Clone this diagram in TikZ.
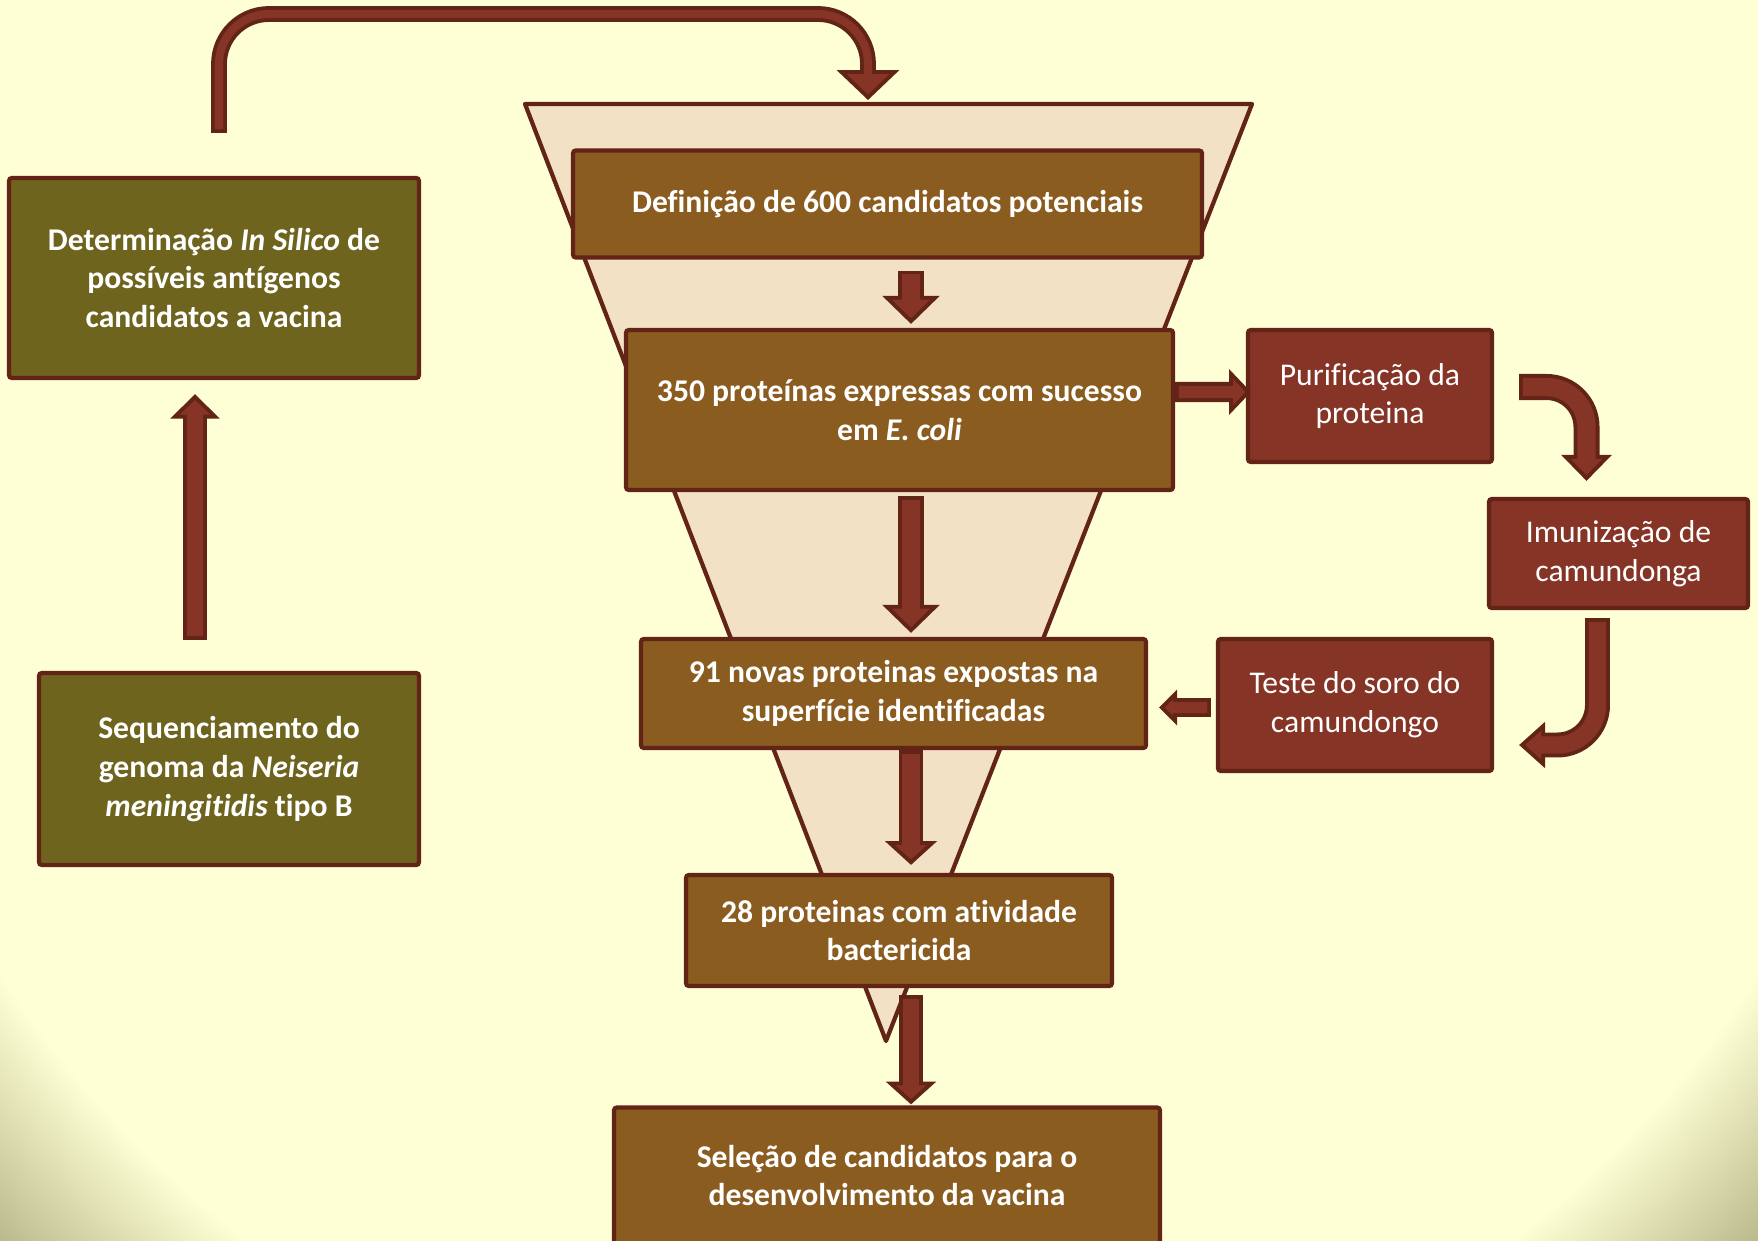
\documentclass[tikz,border=0pt]{standalone}
\usepackage{fontspec}
\setmainfont{Carlito}[Ligatures={NoCommon,NoContextual}, Contextuals=NoAlternate]
\usetikzlibrary{arrows.meta}
\definecolor{bgyellow}{RGB}{255,255,213}
\definecolor{bgdark}{RGB}{186,186,140}
\definecolor{funnelfill}{RGB}{242,225,197}
\definecolor{linedark}{RGB}{99,36,24}
\definecolor{boxbrown}{RGB}{139,92,32}
\definecolor{boxolive}{RGB}{110,100,30}
\definecolor{boxred}{RGB}{133,52,38}
\pgfdeclareradialshading{bgshade}{\pgfpoint{0bp}{0bp}}{color(0bp)=(bgyellow); color(21.6bp)=(bgyellow); color(25bp)=(bgdark); color(50bp)=(bgdark)}

\begin{document}
\begin{tikzpicture}[
			box/.style      = {draw=linedark, line width=1.2pt, rounded corners=0.8pt, text=white, align=center, inner sep=2pt, font=\fontsize{9}{11}\selectfont\bfseries},
			brownbox/.style = {box, fill=boxbrown},
			olivebox/.style = {box, fill=boxolive},
			redbox/.style   = {box, fill=boxred, font=\fontsize{9}{11}\selectfont},
			barrow/.style n args = {3}{draw=linedark, line width=#1, -{Triangle[width=#2, length=#3, fill=boxred, line width=1.1pt]},
				postaction={draw=boxred, line width=#1-2.2pt, -, shorten <=1.1pt, shorten >=#3-2pt}},]
			
			%% BACKGROUND
			\useasboundingbox (0,0) rectangle (17.58,12.40);
			\begin{scope}
			\clip (0,0) rectangle (17.58,12.40);
			\shade[shading=bgshade] (-3.37,-3.8) rectangle (20.95,20.8);
			\end{scope}
			
			%% FUNNEL
			\draw[linedark, line width=1.2pt, fill=funnelfill, line join=round] (5.25,11.36) -- (12.52,11.36) -- (8.86,1.99) -- cycle;
			\coordinate (funtop) at (8.68,11.40);
			\coordinate (colx) at (9.11,0);
			
			%% CENTRAL STEPS
			\node[brownbox, minimum width=6.29cm, minimum height=1.07cm] (def) at (8.875,10.36) {Definição de 600 candidatos potenciais};
			\node[brownbox, minimum width=5.47cm, minimum height=1.60cm] (exp) at (8.995,8.30) {350 proteínas expressas com sucesso\\em \textit{E. coli}};
			\node[brownbox, minimum width=5.05cm, minimum height=1.09cm] (sup) at (8.935,5.465) {91 novas proteinas expostas na\\superfície identificadas};
			\node[brownbox, minimum width=4.26cm, minimum height=1.11cm] (bac) at (8.99,3.095) {28 proteinas com atividade\\bactericida};
			\node[brownbox, minimum width=5.46cm, minimum height=1.36cm] (sel) at (8.87,0.645) {Seleção de candidatos para o\\desenvolvimento da vacina};
			
			%% LEFT SIDE
			\node[olivebox, minimum width=4.10cm, minimum height=2.00cm] (silico) at (2.14,9.62) {Determinação \textit{In Silico} de\\possíveis antígenos\\candidatos a vacina};
			\node[olivebox, minimum width=3.80cm, minimum height=1.92cm] (genoma) at (2.29,4.71) {Sequenciamento do\\genoma da \textit{Neiseria}\\\textit{meningitidis} tipo B};
			
			%% RIGHT SIDE
			\node[redbox, minimum width=2.44cm, minimum height=1.32cm] (purif) at (13.70,8.44) {Purificação da\\proteina};
			\node[redbox, minimum width=2.59cm, minimum height=1.09cm] (imun) at (16.185,6.865) {Imunização de\\camundonga};
			\node[redbox, minimum width=2.74cm, minimum height=1.32cm] (teste) at (13.55,5.35) {Teste do soro do\\camundongo};
			
			%% ARROWS
			\draw[barrow={4.5pt}{17.6pt}{8.5pt}, rounded corners=0.5cm] ([xshift=0.5mm,yshift=4.3mm]silico.north) |- ([yshift=8.6mm]funtop) -- (funtop);
			\draw[barrow={6.8pt}{13.9pt}{7pt}] ([xshift=-3.4mm,yshift=3.1mm]genoma.north) -- ([xshift=-1.9mm,yshift=-1.4mm]silico.south);
			\draw[barrow={7.4pt}{16.2pt}{8pt}] ([yshift=-1.1mm]def.south -| colx) -- ([yshift=0.4mm]exp.north -| colx);
			\draw[barrow={7.4pt}{16.2pt}{8pt}] ([yshift=-0.4mm]exp.south -| colx) -- ([yshift=0.4mm]sup.north -| colx);
			\draw[barrow={7.1pt}{14.7pt}{6.8pt}] (sup.south -| colx) -- ([yshift=0.8mm]bac.north -| colx);
			\draw[barrow={7pt}{14.2pt}{6.5pt}] ([yshift=-0.7mm]bac.south -| colx) -- ([yshift=0.1mm]sel.north -| colx);
			\draw[barrow={5.7pt}{12.8pt}{6.2pt}] ([yshift=1.8mm]exp.east) -- ([xshift=0.5mm,yshift=0.4mm]purif.west);
			\draw[barrow={7.4pt}{14.2pt}{7.4pt}, rounded corners=0.4cm] ([xshift=2.5mm,yshift=0.9mm]purif.east) -| ([xshift=-3.2mm,yshift=1.6mm]imun.north);
			\draw[barrow={7.1pt}{13pt}{7.4pt}, rounded corners=0.4cm] ([xshift=-2.1mm,yshift=-0.8mm]imun.south) |- ([xshift=2.5mm,yshift=-4.0mm]teste.east);
			\draw[barrow={5.4pt}{10pt}{5.1pt}] ([xshift=-0.5mm,yshift=-0.25mm]teste.west) -- ([xshift=1.1mm,yshift=-1.4mm]sup.east);
\end{tikzpicture}
\end{document}
